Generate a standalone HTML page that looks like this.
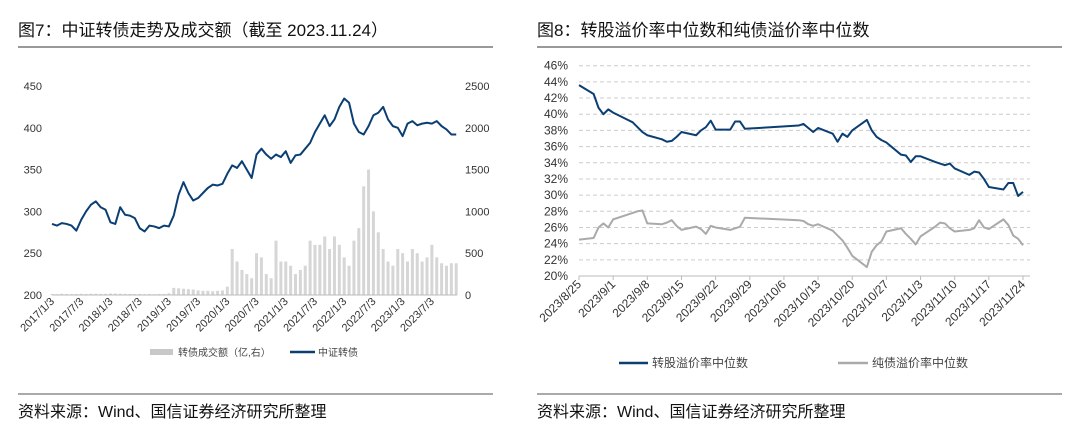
<!DOCTYPE html>
<html><head><meta charset="utf-8">
<style>
body{margin:0;background:#fff;}
svg{display:block;font-family:"Liberation Sans","Noto Sans CJK SC",sans-serif;}
</style></head>
<body>
<svg id="root" width="1080" height="441" viewBox="0 0 1080 441" xmlns="http://www.w3.org/2000/svg">
<rect width="1080" height="441" fill="#fff"/>
<text x="18" y="36" font-size="17" fill="#111">图7：中证转债走势及成交额（截至 2023.11.24）</text>
<line x1="18" y1="47" x2="493" y2="47" stroke="#333" stroke-width="1"/>
<text x="537" y="36" font-size="17" fill="#111">图8：转股溢价率中位数和纯债溢价率中位数</text>
<line x1="537" y1="47" x2="1062" y2="47" stroke="#333" stroke-width="1"/>
<line x1="18" y1="394" x2="493" y2="394" stroke="#555" stroke-width="1"/>
<line x1="537" y1="394" x2="1062" y2="394" stroke="#555" stroke-width="1"/>
<text x="18" y="417" font-size="16" fill="#111">资料来源：Wind、国信证券经济研究所整理</text>
<text x="537" y="417" font-size="16" fill="#111">资料来源：Wind、国信证券经济研究所整理</text>
<g id="left"></g>
<g id="right"></g>
<g>
<rect x="150" y="349" width="23" height="6" fill="#c8c8c8"/>
<text x="178" y="356" font-size="10" fill="#444">转债成交额（亿,右）</text>
<line x1="290" y1="352" x2="315" y2="352" stroke="#0b3f73" stroke-width="2.5"/>
<text x="318" y="356" font-size="10" fill="#444">中证转债</text>
</g>
<g>
<line x1="619" y1="363" x2="648" y2="363" stroke="#0b3f73" stroke-width="2.5"/>
<text x="652" y="367" font-size="12" fill="#444">转股溢价率中位数</text>
<line x1="838" y1="363" x2="868" y2="363" stroke="#aaa" stroke-width="2.5"/>
<text x="872" y="367" font-size="12" fill="#444">纯债溢价率中位数</text>
</g>
</svg>
<script>
// ---------- Left chart data (monthly, 2017/1 .. 2023/11) ----------
const indexValues=[285,283,286,285,283,277,290,300,308,312,305,302,287,285,305,296,295,292,280,276,283,282,280,283,282,295,320,335,322,313,316,322,328,332,331,333,345,355,352,360,350,340,368,375,368,363,368,365,372,358,367,368,375,382,395,405,415,402,410,425,435,430,405,395,392,402,415,418,425,410,402,400,390,405,408,403,405,406,405,408,402,398,392,392];
const volumeValues=[12,10,14,12,10,12,14,12,15,14,12,14,18,16,15,14,12,12,12,10,12,10,12,12,20,85,80,75,70,65,55,50,50,45,50,55,100,550,400,300,250,200,500,450,250,200,650,400,400,350,250,300,350,650,600,600,700,550,700,600,450,350,650,800,1300,1500,1000,750,550,400,350,550,500,400,550,500,400,450,600,450,380,350,380,380];
const leftTickLabels=["2017/1/3","2017/7/3","2018/1/3","2018/7/3","2019/1/3","2019/7/3","2020/1/3","2020/7/3","2021/1/3","2021/7/3","2022/1/3","2022/7/3","2023/1/3","2023/7/3"];
const leftYTicks=[200,250,300,350,400,450];
const rightYTicks=[0,500,1000,1500,2000,2500];

// ---------- Right chart data ----------
const dayOffsets=[0,3,4,5,6,7,10,11,12,13,14,17,18,19,20,21,24,25,26,27,28,31,32,33,34,45,46,47,48,49,52,53,54,55,56,59,60,61,62,63,66,67,68,69,70,73,74,75,76,77,80,81,82,83,84,87,88,89,90,91];
const convPremium=[43.6,42.5,40.8,40.0,40.6,40.2,39.3,39.0,38.4,37.8,37.4,36.9,36.6,36.7,37.2,37.8,37.4,38.0,38.4,39.2,38.1,38.1,39.1,39.1,38.2,38.6,38.8,38.3,37.8,38.3,37.6,36.6,37.6,37.2,38.0,39.3,38.0,37.2,36.8,36.5,35.0,34.9,34.1,34.8,34.8,34.1,33.9,33.7,33.9,33.3,32.5,32.9,32.8,32.0,31.0,30.7,31.5,31.5,29.9,30.4];
const bondPremium=[24.5,24.7,26.0,26.5,26.0,27.0,27.6,27.8,28.0,28.1,26.5,26.4,26.6,26.9,26.2,25.7,26.1,25.8,25.2,26.2,26.0,25.7,25.9,26.1,27.2,26.9,26.8,26.4,26.2,26.4,25.6,25.0,24.4,23.5,22.5,21.1,23.0,23.8,24.3,25.5,25.9,25.2,24.6,23.9,24.9,26.1,26.6,26.5,25.9,25.5,25.7,25.9,26.9,26.0,25.8,27.0,26.3,25.0,24.6,23.8];
const rightXLabels=["2023/8/25","2023/9/1","2023/9/8","2023/9/15","2023/9/22","2023/9/29","2023/10/6","2023/10/13","2023/10/20","2023/10/27","2023/11/3","2023/11/10","2023/11/17","2023/11/24"];
const pctTicks=[20,22,24,26,28,30,32,34,36,38,40,42,44,46];

const NS="http://www.w3.org/2000/svg";
function mk(tag,attrs,parent,text){const e=document.createElementNS(NS,tag);for(const k in attrs)e.setAttribute(k,attrs[k]);if(text!==undefined)e.textContent=text;parent.appendChild(e);return e;}

// Left axes
const L=document.getElementById('left');
const lx=m=>52+m*4.87;
const ly=v=>295-(v-200)*209/250;
const ry=v=>295-v*209/2500;
volumeValues.forEach((v,i)=>{
  const b=mk('rect',{x:lx(i)-1.5,y:ry(v),width:3,height:295-ry(v),fill:'#d6d6d6'},L);
  
  
});
const ax=mk('line',{x1:52,y1:295,x2:457,y2:295,stroke:'#bbb','stroke-width':1},L);


const ip=mk('polyline',{points:indexValues.map((v,i)=>lx(i)+','+ly(v)).join(' '),fill:'none',stroke:'#0b3f73','stroke-width':2,'stroke-linejoin':'round'},L);


leftYTicks.forEach(v=>{
  const t=mk('text',{x:42,y:ly(v)+4,'font-size':11,'text-anchor':'end',fill:'#333'},L,String(v));
  
  
});
rightYTicks.forEach(v=>{
  const t=mk('text',{x:465,y:ry(v)+4,'font-size':11,fill:'#333'},L,String(v));
  
  
});
leftTickLabels.forEach((s,i)=>{
  const x=lx(i*6)+3,y=302;
  const t=mk('text',{x:x,y:y,'font-size':11,'text-anchor':'end',fill:'#333',transform:`rotate(-45 ${x} ${y})`},L,s);
  
  
});

// Right axes
const R=document.getElementById('right');
const px=d=>579+d*444/91;
const py=v=>276-(v-20)*210.3/26;
pctTicks.forEach(v=>{
  if(v>20){const g=mk('line',{x1:579,y1:py(v),x2:1030,y2:py(v),stroke:'#ccc','stroke-dasharray':'4,3'},R);
  
  }
  const t=mk('text',{x:568,y:py(v)+4,'font-size':12,'text-anchor':'end',fill:'#333'},R,v+'%');
  
  
});
const rax=mk('line',{x1:579,y1:276,x2:1030,y2:276,stroke:'#bbb'},R);


rightXLabels.forEach((s,i)=>{
  const x=px(i*7);
  const tk=mk('line',{x1:x,y1:276,x2:x,y2:280,stroke:'#bbb'},R);
  
  
  const xx=x+3,yy=285;
  const t=mk('text',{x:xx,y:yy,'font-size':12,'text-anchor':'end',fill:'#333',transform:`rotate(-45 ${xx} ${yy})`},R,s);
  
  
});
const bp=mk('polyline',{points:bondPremium.map((v,i)=>px(dayOffsets[i])+','+py(v)).join(' '),fill:'none',stroke:'#aaa','stroke-width':2,'stroke-linejoin':'round'},R);


const cp=mk('polyline',{points:convPremium.map((v,i)=>px(dayOffsets[i])+','+py(v)).join(' '),fill:'none',stroke:'#0b3f73','stroke-width':2,'stroke-linejoin':'round'},R);


</script>
</body></html>
